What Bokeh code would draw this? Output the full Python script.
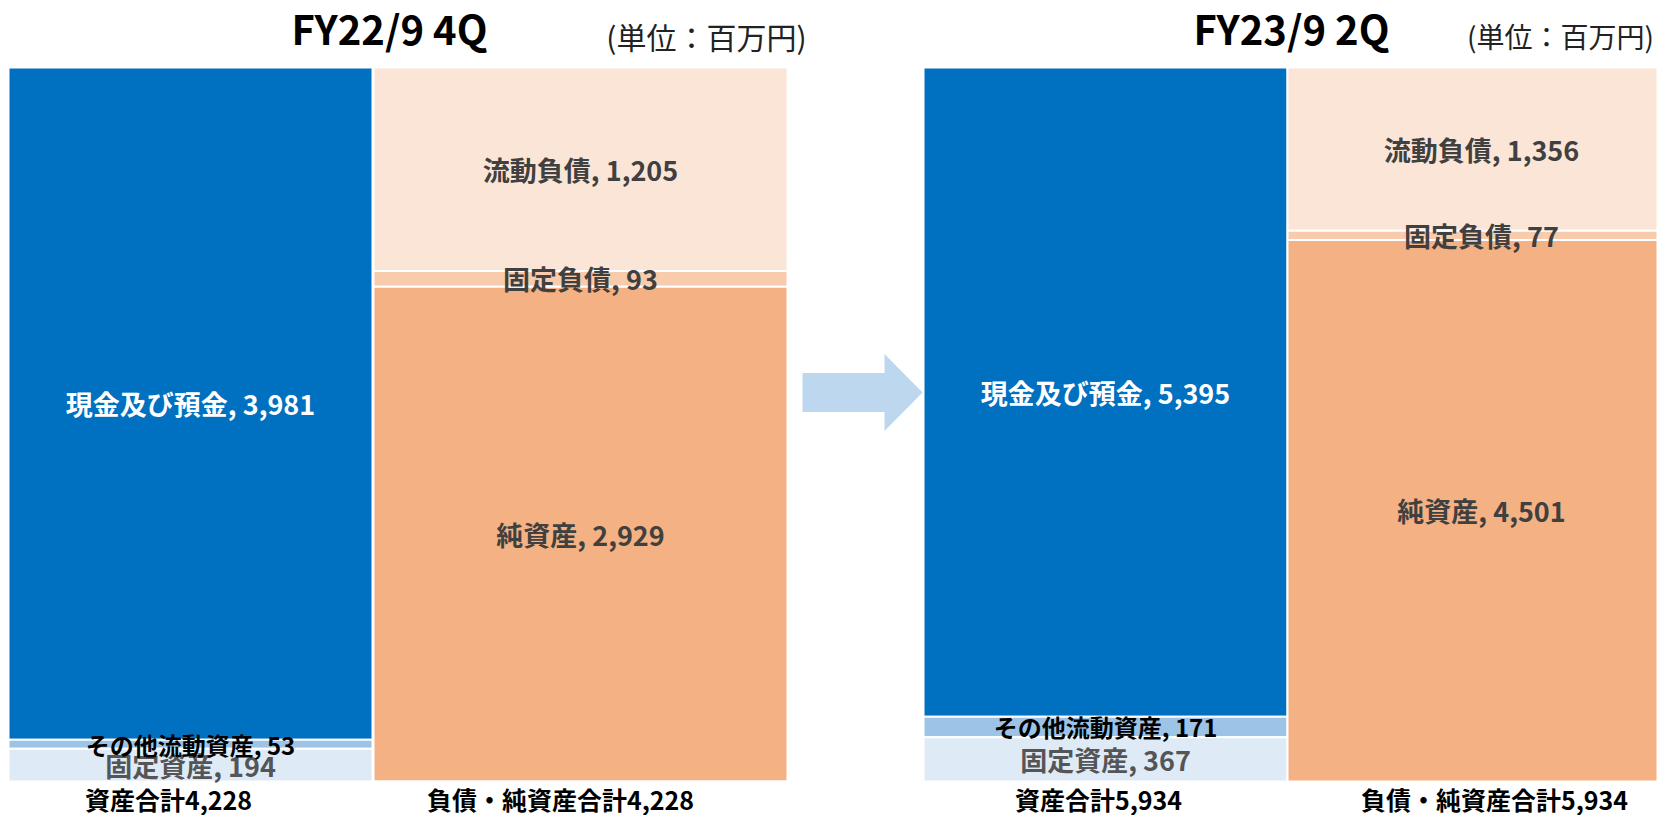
from bokeh.plotting import figure
from bokeh.models import Range1d, ColumnDataSource
from bokeh.core.properties import value
from bokeh.embed import file_html
from bokeh.resources import INLINE

# ---------------- data ----------------
periods = ["FY22/9 4Q", "FY23/9 2Q"]
unit_label = "(単位：百万円)"
asset_names = ["現金及び預金", "その他流動資産", "固定資産"]
liab_names = ["流動負債", "固定負債", "純資産"]
cash = [3981, 5395]
other_current = [53, 171]
fixed_assets = [194, 367]
current_liab = [1205, 1356]
fixed_liab = [93, 77]
net_assets = [2929, 4501]
asset_total = [4228, 5934]
liab_total = [4228, 5934]
total_asset_label = "資産合計"
total_liab_label = "負債・純資産合計"

# ---------------- layout / style ----------------
FONT = value("Noto Sans CJK JP")
W, H = 1657, 815
BAR_TOP_PX, BAR_BOT_PX = 67, 781          # pixel rows of 100% and 0%
PPU = (BAR_BOT_PX - BAR_TOP_PX) / 100.0   # pixels per percent


def py(pix_y):
    """pixel row -> data y (percent of total)"""
    return (BAR_BOT_PX - pix_y) / PPU


asset_colors = ["#0070C0", "#9DC3E6", "#DEEBF7"]
liab_colors = ["#FBE5D6", "#F8CBAD", "#F4B183"]
asset_text_colors = ["white", "black", "#555555"]
liab_text_colors = ["#404040", "#404040", "#404040"]
asset_text_sizes = ["27px", "24px", "27px"]

# panel geometry (pixel x)
asset_x = [190, 1105]
asset_w = [364, 364]
liab_x = [580, 1472]
liab_w = [414, 370]
title_x = [389, 1291]
unit_x = [706, 1560]
unit_size = ["30px", "28px"]
tot_asset_x = [168, 1098]
tot_liab_x = [560, 1494]

p = figure(width=W, height=H, output_backend="svg", toolbar_location=None,
           x_range=Range1d(0, W), y_range=Range1d(py(H), py(0)),
           min_border=0)
p.axis.visible = False
p.grid.visible = False
p.outline_line_color = None
p.background_fill_color = "white"

# ---------------- bars ----------------
for i in range(2):
    a_vals = [cash[i], other_current[i], fixed_assets[i]]
    l_vals = [current_liab[i], fixed_liab[i], net_assets[i]]
    for vals, tot, names, cols, tcols, xc, wd, kind in [
        (a_vals, asset_total[i], asset_names, asset_colors, asset_text_colors, asset_x[i], asset_w[i], "a"),
        (l_vals, liab_total[i], liab_names, liab_colors, liab_text_colors, liab_x[i], liab_w[i], "l"),
    ]:
        tops, bots = [], []
        cum = 100.0
        for v in vals:
            h = v / tot * 100.0
            tops.append(cum)
            bots.append(cum - h)
            cum -= h
        src = ColumnDataSource(dict(x=[xc] * 3, top=tops, bottom=bots, color=cols))
        p.vbar(x="x", width=wd, top="top", bottom="bottom", fill_color="color",
               line_color="white", line_width=2, source=src)
        labels = [f"{n}, {v:,}" for n, v in zip(names, vals)]
        mids = [(t + b) / 2 for t, b in zip(tops, bots)]
        sizes = asset_text_sizes if kind == "a" else ["27px"] * 3
        order = [0, 2, 1] if kind == "a" else [0, 1, 2]
        lx = xc if not (kind == "l" and i == 1) else 1481
        for k in order:
            p.text(x=[lx], y=[mids[k]], text=[labels[k]], text_color=tcols[k],
                   text_font=FONT, text_font_style="bold", text_font_size=sizes[k],
                   text_align="center", text_baseline="middle")

    # titles
    p.text(x=[title_x[i]], y=[py(27)], text=[periods[i]], text_color="black",
           text_font=FONT, text_font_style="bold", text_font_size="40px",
           text_align="center", text_baseline="middle")
    p.text(x=[unit_x[i]], y=[py(35)], text=[unit_label], text_color="#222222",
           text_font=FONT, text_font_size=unit_size[i],
           text_align="center", text_baseline="middle")
    # totals
    p.text(x=[tot_asset_x[i]], y=[py(798)], text=[f"{total_asset_label}{asset_total[i]:,}"],
           text_color="black", text_font=FONT, text_font_style="bold", text_font_size="25px",
           text_align="center", text_baseline="middle")
    p.text(x=[tot_liab_x[i]], y=[py(798)], text=[f"{total_liab_label}{liab_total[i]:,}"],
           text_color="black", text_font=FONT, text_font_style="bold", text_font_size="25px",
           text_align="center", text_baseline="middle")

# ---------------- arrow ----------------
ax0, ax_head, ax_tip = 802, 884, 922
ay_c, body_h, head_h = 392, 39, 77
arrow_x = [ax0, ax_head, ax_head, ax_tip, ax_head, ax_head, ax0]
arrow_y = [py(ay_c - body_h / 2), py(ay_c - body_h / 2), py(ay_c - head_h / 2), py(ay_c),
           py(ay_c + head_h / 2), py(ay_c + body_h / 2), py(ay_c + body_h / 2)]
p.patch(arrow_x, arrow_y, fill_color="#BDD7EE", line_color=None)

open("out.html", "w").write(file_html(p, INLINE))
